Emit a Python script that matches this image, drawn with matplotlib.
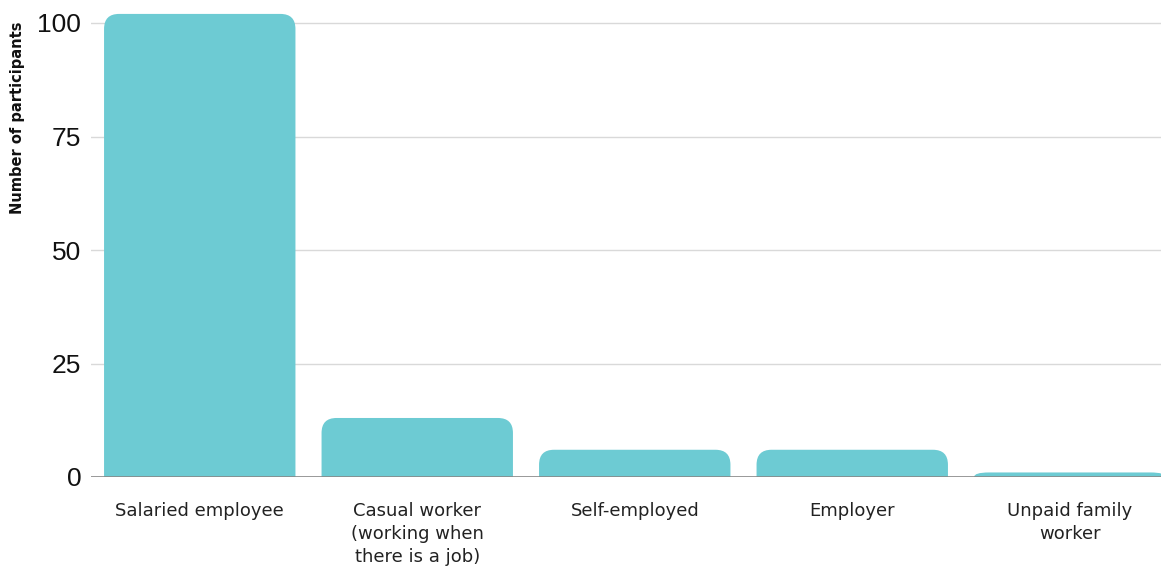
import matplotlib
matplotlib.use("Agg")
import matplotlib.pyplot as plt
from matplotlib.path import Path
from matplotlib.patches import PathPatch

categories = ["Salaried employee", "Casual worker\n(working when\nthere is a job)",
              "Self-employed", "Employer", "Unpaid family\nworker"]
participants = [102, 13, 6, 6, 1]
yticks = [0, 25, 50, 75, 100]

BAR_COLOR = "#6dcbd3"
W, H = 1161, 567


def rounded_bar(x, width, height, rx, ry):
    """Bar path with rounded top corners (radii in data units)."""
    ry = min(ry, height)
    x0, x1 = x - width / 2, x + width / 2
    verts = [(x0, 0), (x0, height - ry), (x0, height), (x0 + rx, height),
             (x1 - rx, height), (x1, height), (x1, height - ry), (x1, 0), (x0, 0)]
    codes = [Path.MOVETO, Path.LINETO, Path.CURVE3, Path.CURVE3,
             Path.LINETO, Path.CURVE3, Path.CURVE3, Path.LINETO, Path.CLOSEPOLY]
    return Path(verts, codes)


fig = plt.figure(figsize=(W / 100, H / 100), dpi=100)
left_px, bottom_px = 91, 90
ax = fig.add_axes([left_px / W, bottom_px / H, 1 - left_px / W, 1 - bottom_px / H])

ymax = (H - bottom_px) / 4.54
ax.set_ylim(0, ymax)
step_px = 217.5
ax.set_xlim(-0.5, -0.5 + (W - left_px) / step_px)

bar_w = 0.88
rx = 15 / step_px
ry = 15 / 4.54
for i, v in enumerate(participants):
    ax.add_patch(PathPatch(rounded_bar(i, bar_w, v, rx, ry), facecolor=BAR_COLOR,
                           edgecolor="none", zorder=3))

ax.set_yticks(yticks)
ax.set_yticklabels([str(t) for t in yticks], fontsize=19, family="Liberation Sans",
                   color="#111111")
ax.set_xticks(range(len(categories)))
ax.set_xticklabels(categories, fontsize=13, family="DejaVu Sans", color="#222222",
                   linespacing=1.35, va="top")
ax.tick_params(axis="both", length=0)
ax.tick_params(axis="y", pad=7)
ax.tick_params(axis="x", pad=18)

for t in yticks[1:]:
    ax.axhline(t, color="#d9d9d9", lw=1, zorder=1)
ax.axhline(0, color="#888888", lw=1.2, zorder=4)

for s in ax.spines.values():
    s.set_visible(False)

fig.text(18 / W, 1 - 118 / H, "Number of participants", rotation=90,
         fontsize=10.5, fontweight="bold", family="DejaVu Sans", ha="center", va="center",
         color="#111111")

fig.savefig("out.png", dpi=100)
